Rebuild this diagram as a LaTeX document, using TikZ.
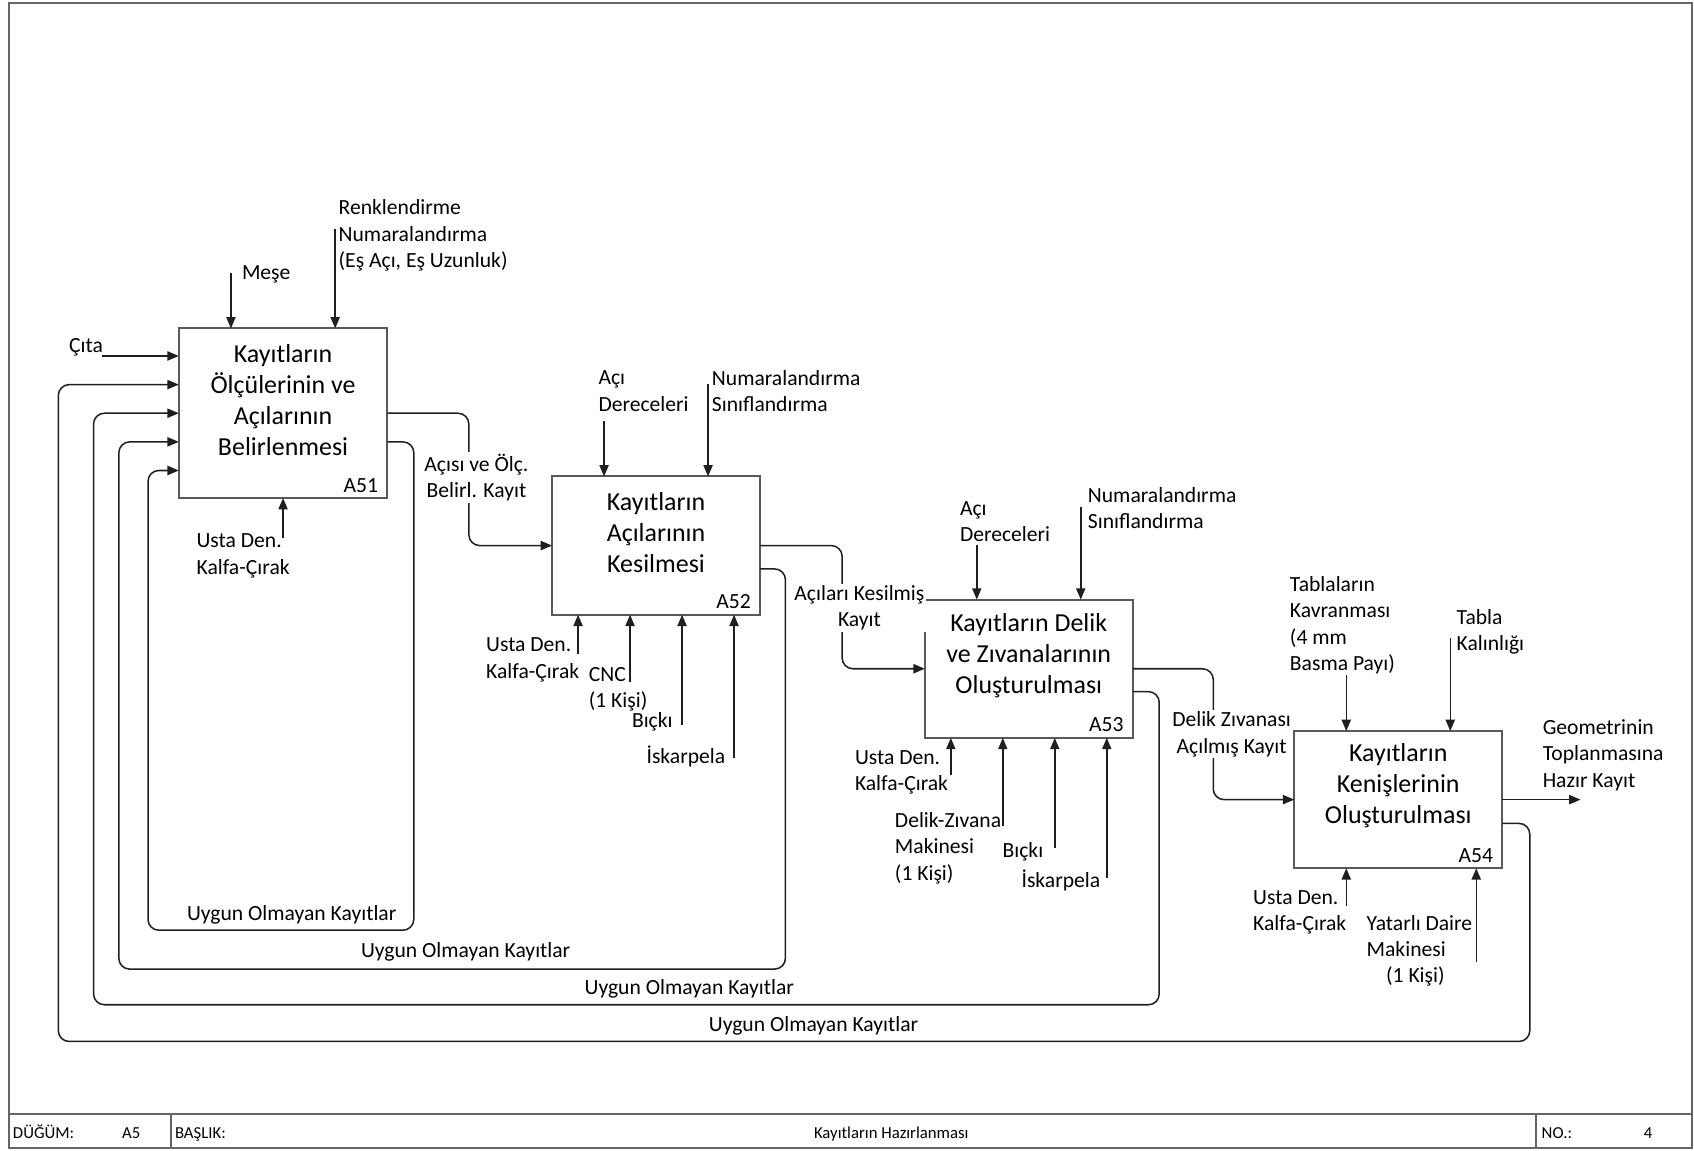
\documentclass[tikz,border=0pt]{standalone}
\usepackage{fontspec}
\setmainfont{Carlito}
\usetikzlibrary{arrows.meta,calc}

\begin{document}
\begin{tikzpicture}[x=1pt,y=-1pt,
  every node/.style={inner sep=0pt, outer sep=0pt},
  act/.style={draw=black!65, line width=1.8pt, fill=white,
    minimum width=192.5pt, minimum height=128pt},
  ttl/.style={font=\fontsize{24}{28.7}\selectfont, align=center},
  boxcode/.style={font=\fontsize{20}{24.5}\selectfont, anchor=base east},
  lbl/.style={font=\fontsize{20}{24.5}\selectfont, align=left, anchor=west, yshift=-1.5pt},
  clbl/.style={font=\fontsize{20}{24.5}\selectfont, align=center,
    fill=white, inner sep=1.5pt},
  ulbl/.style={font=\fontsize{20}{24.5}\selectfont},
  flow/.style={draw=black!88, line width=1.4pt,
    -{Triangle[length=10.5pt,width=8.5pt]}},
  fwd/.style={flow, rounded corners=10pt},
  fback/.style={flow, rounded corners=10pt},
  frame/.style={draw=black!60, line width=1.8pt},
  foot/.style={font=\fontsize{15.5}{18}\selectfont},
]
\useasboundingbox (0,0) rectangle (1568,1065);

% sheet frame and title block
\draw[frame] (8,3) rectangle (1566,1063);
\draw[frame] (8,1031) -- (1566,1031);
\draw[frame] (158,1031) -- (158,1063);
\draw[frame] (1422,1031) -- (1422,1063);
\node[foot, anchor=base west] (fnode) at (12,1054) {DÜĞÜM:};
\node[foot, anchor=base west] (fnodev) at (113,1054) {A5};
\node[foot, anchor=base west] (ftitle) at (162,1054) {BAŞLIK:};
\node[foot, anchor=base] (ftitlev) at (825,1054) {Kayıtların Hazırlanması};
\node[foot, anchor=base west] (fno) at (1427,1054) {NO.:};
\node[foot, anchor=base] (fnov) at (1525.6,1054) {4};

% activity boxes
\node[act, minimum width=193pt, minimum height=157pt] (a51) at (262,382.5) {};
\node[act] (a52) at (607.25,505) {};
\node[act] (a53) at (952.25,619) {};
\node[act, minimum height=127pt] (a54) at (1294.25,740.15) {};

\node[ttl] (a51t) at ([yshift=12.5pt]a51.center) {Kayıtların\\Ölçülerinin ve\\Açılarının\\Belirlenmesi};
\node[ttl] (a52t) at ([yshift=12pt]a52.center) {Kayıtların\\Açılarının\\Kesilmesi};
\node[ttl] (a53t) at ([yshift=12.5pt]a53.center) {Kayıtların Delik\\ve Zıvanalarının\\Oluşturulması};
\node[ttl] (a54t) at ([yshift=13pt]a54.center) {Kayıtların\\Kenişlerinin\\Oluşturulması};

\node[boxcode] (a51c) at ([xshift=-8.5pt,yshift=5.5pt]a51.south east) {A51};
\node[boxcode] (a52c) at ([xshift=-8.5pt,yshift=5.5pt]a52.south east) {A52};
\node[boxcode] (a53c) at ([xshift=-8.5pt,yshift=5.5pt]a53.south east) {A53};
\node[boxcode] (a54c) at ([xshift=-8.5pt,yshift=5.5pt]a54.south east) {A54};

% free ends of inputs, controls, mechanisms and output
\coordinate (cita) at (94,329.5);
\coordinate (mese) at (213.75,253);
\coordinate (renk) at (310.25,212);
\coordinate (m51)  at (262,498);
\coordinate (c521) at (559.125,390);
\coordinate (c522) at (655.375,355);
\coordinate (m521) at (535.06,605);
\coordinate (m522) at (583.19,631);
\coordinate (m523) at (631.31,671);
\coordinate (m524) at (679.44,702);
\coordinate (c531) at (904.125,504.5);
\coordinate (c532) at (1000.375,469);
\coordinate (m531) at (880.06,717);
\coordinate (m532) at (928.19,765);
\coordinate (m533) at (976.31,785);
\coordinate (m534) at (1024.44,813);
\coordinate (c541) at (1246.125,625);
\coordinate (c542) at (1342.375,591);
\coordinate (m541) at (1246.125,839);
\coordinate (m542) at (1366.44,890);
\coordinate (out)  at (1463,740.15);

% A51 arrows
\draw[flow] (cita) -- (cita -| a51.west);
\draw[flow] (mese) -- (mese |- a51.north);
\draw[flow] (renk) -- (renk |- a51.north);
\draw[flow] (m51) -- (m51 |- a51.south);

% A52 arrows
\draw[flow] (c521) -- (c521 |- a52.north);
\draw[flow] (c522) -- (c522 |- a52.north);
\draw[flow] (m521) -- (m521 |- a52.south);
\draw[flow] (m522) -- (m522 |- a52.south);
\draw[flow] (m523) -- (m523 |- a52.south);
\draw[flow] (m524) -- (m524 |- a52.south);

% A53 arrows
\draw[flow] (c531) -- (c531 |- a53.north);
\draw[flow] (c532) -- (c532 |- a53.north);
\draw[flow] (m531) -- (m531 |- a53.south);
\draw[flow] (m532) -- (m532 |- a53.south);
\draw[flow] (m533) -- (m533 |- a53.south);
\draw[flow] (m534) -- (m534 |- a53.south);

% A54 arrows
\draw[flow] (c541) -- (c541 |- a54.north);
\draw[flow] (c542) -- (c542 |- a54.north);
\draw[flow] (m541) -- (m541 |- a54.south);
\draw[flow] (m542) -- (m542 |- a54.south);
\draw[flow] (a54.east) -- (out);

% outputs passed to the next activity
\draw[fwd] (a51.east) -- ++(75.5,0) |- (a52.west);
\draw[fwd] (a52.east) -- ++(76,0) |- (a53.west);
\draw[fwd] (a53.east) -- ++(74.5,0) |- (a54.west);

% rejected parts fed back to A51
\draw[fback] ([yshift=-26.5pt]a51.east) -- ++(24.5,0) -- ++(0,452) -- ++(-246,0) |- ([yshift=-53pt]a51.west);
\draw[fback] ([yshift=-21.6pt]a52.east) -- ++(23.5,0) -- ++(0,370.4) -- ++(-617,0) |- ([yshift=-26.5pt]a51.west);
\draw[fback] ([yshift=-21.2pt]a53.east) -- ++(24.5,0) -- ++(0,289.8) -- ++(-986.4,0) |- (a51.west);
\draw[fback] ([yshift=-22pt]a54.east) -- ++(25.5,0) -- ++(0,201.85) -- ++(-1362,0) |- ([yshift=26.5pt]a51.west);

% labels of A51
\node[lbl] (lcita) at (64,320) {Çıta};
\node[lbl] (lmese) at (224,252.5) {Meşe};
\node[lbl] (lrenk) at (313.5,216.5) {Renklendirme\\Numaralandırma\\(Eş Açı, Eş Uzunluk)};
\node[lbl] (lm51) at (182,513) {Usta Den.\\Kalfa-Çırak};
\node[clbl] (lo51) at (441,442) {Açısı ve Ölç.\\Belirl. Kayıt};

% labels of A52
\node[lbl] (lc521) at (554,360.6) {Açı\\Dereceleri};
\node[lbl] (lc522) at (659,360.6) {Numaralandırma\\Sınıflandırma};
\node[lbl] (lm521) at (450,609.3) {Usta Den.\\Kalfa-Çırak};
\node[lbl] (lm522) at (545,636.4) {CNC\\(1 Kişi)};
\node[lbl] (lm523) at (585,666.4) {Bıçkı};
\node[lbl] (lm524) at (598.5,698.8) {İskarpela};
\node[clbl] (lo52) at (795.5,562.5) {Açıları Kesilmiş\\Kayıt};

% labels of A53
\node[lbl] (lc531) at (888.6,481.3) {Açı\\Dereceleri};
\node[lbl] (lc532) at (1007,469) {Numaralandırma\\Sınıflandırma};
\node[lbl] (lm531) at (791.4,713.5) {Usta Den.\\Kalfa-Çırak};
\node[lbl] (lm532) at (828.4,783.6) {Delik-Zıvana\\Makinesi\\(1 Kişi)};
\node[lbl] (lm533) at (928,786.7) {Bıçkı};
\node[lbl] (lm534) at (945.6,813) {İskarpela};
\node[clbl] (lo53) at (1140,679.7) {Delik Zıvanası\\Açılmış Kayıt};

% labels of A54
\node[lbl] (lc541) at (1194,577.3) {Tablaların\\Kavranması\\(4 mm\\Basma Payı)};
\node[lbl] (lc542) at (1348.3,583.5) {Tabla\\Kalınlığı};
\node[lbl] (lm541) at (1160,843) {Usta Den.\\Kalfa-Çırak};
\node[lbl] (lm542) at (1265,878.6) {Yatarlı Daire\\Makinesi\\\hspace*{18pt}(1 Kişi)};
\node[lbl] (lo54) at (1428,697.3) {Geometrinin\\Toplanmasına\\Hazır Kayıt};

% labels of the feedback loops
\node[ulbl] (u1) at (270,847) {Uygun Olmayan Kayıtlar};
\node[ulbl] (u2) at (431,881) {Uygun Olmayan Kayıtlar};
\node[ulbl] (u3) at (638,915) {Uygun Olmayan Kayıtlar};
\node[ulbl] (u4) at (753,950) {Uygun Olmayan Kayıtlar};
\end{tikzpicture}
\end{document}
